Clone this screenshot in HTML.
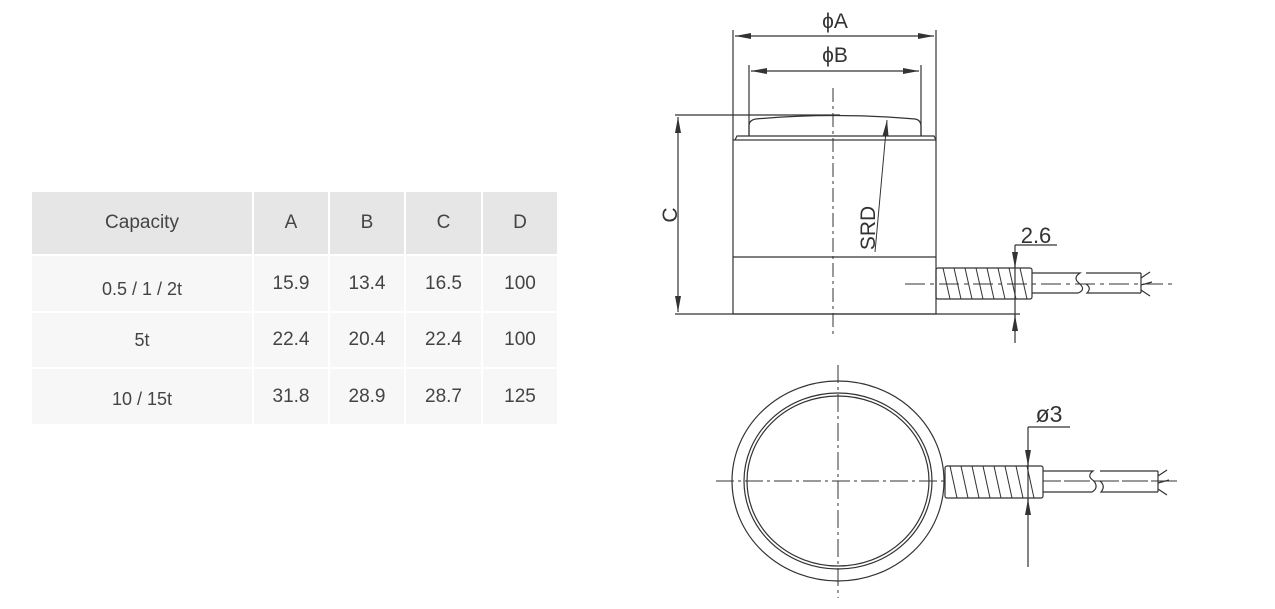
<!DOCTYPE html>
<html><head><meta charset="utf-8"><style>
html,body{margin:0;padding:0;background:#fff;width:1275px;height:609px;overflow:hidden;position:relative;font-family:"Liberation Sans",Arial,sans-serif;}
.c{position:absolute;display:flex;align-items:center;justify-content:center;color:#444;font-size:19px;}
.h{background:#e6e6e6;}
.r{background:#f7f7f7;}
svg{position:absolute;left:0;top:0;}
svg text{font-weight:300;}
</style></head><body>
<div class="c h" style="left:32px;top:192px;width:220px;height:62px;">Capacity</div>
<div class="c h" style="left:254px;top:192px;width:74px;height:62px;">A</div>
<div class="c h" style="left:330px;top:192px;width:74px;height:62px;">B</div>
<div class="c h" style="left:406px;top:192px;width:75px;height:62px;">C</div>
<div class="c h" style="left:483px;top:192px;width:74px;height:62px;">D</div>

<div class="c r" style="left:32px;top:256px;width:220px;height:55px;padding-top:12px;box-sizing:border-box;font-size:18px;">0.5 / 1 / 2t</div>
<div class="c r" style="left:254px;top:256px;width:74px;height:55px;">15.9</div>
<div class="c r" style="left:330px;top:256px;width:74px;height:55px;">13.4</div>
<div class="c r" style="left:406px;top:256px;width:75px;height:55px;">16.5</div>
<div class="c r" style="left:483px;top:256px;width:74px;height:55px;">100</div>

<div class="c r" style="left:32px;top:313px;width:220px;height:54px;font-size:18px;">5t</div>
<div class="c r" style="left:254px;top:313px;width:74px;height:54px;">22.4</div>
<div class="c r" style="left:330px;top:313px;width:74px;height:54px;">20.4</div>
<div class="c r" style="left:406px;top:313px;width:75px;height:54px;">22.4</div>
<div class="c r" style="left:483px;top:313px;width:74px;height:54px;">100</div>

<div class="c r" style="left:32px;top:369px;width:220px;height:55px;padding-top:6px;box-sizing:border-box;font-size:18px;">10 / 15t</div>
<div class="c r" style="left:254px;top:369px;width:74px;height:55px;">31.8</div>
<div class="c r" style="left:330px;top:369px;width:74px;height:55px;">28.9</div>
<div class="c r" style="left:406px;top:369px;width:75px;height:55px;">28.7</div>
<div class="c r" style="left:483px;top:369px;width:74px;height:55px;">125</div>

<svg width="1275" height="609" viewBox="0 0 1275 609" fill="none" stroke="#333" stroke-width="1.2">
<defs>
<marker id="ar" viewBox="0 0 16 6" refX="16" refY="3" markerWidth="16" markerHeight="6" orient="auto-start-reverse" markerUnits="userSpaceOnUse"><path d="M0,0L16,3L0,6z" fill="#333" stroke="none"/></marker>
</defs>
<g>
<line x1="733" y1="30" x2="733" y2="140"/>
<line x1="936" y1="30" x2="936" y2="140"/>
<line x1="735" y1="36" x2="934" y2="36" marker-start="url(#ar)" marker-end="url(#ar)"/>
<line x1="749" y1="65" x2="749" y2="136"/>
<line x1="921" y1="65" x2="921" y2="136"/>
<line x1="751" y1="71" x2="919" y2="71" marker-start="url(#ar)" marker-end="url(#ar)"/>
<text x="835" y="28" font-family="Liberation Sans,sans-serif" font-size="21" fill="#333" stroke="none" text-anchor="middle">ϕA</text>
<text x="835" y="62" font-family="Liberation Sans,sans-serif" font-size="21" fill="#333" stroke="none" text-anchor="middle">ϕB</text>
<rect x="733" y="140" width="203" height="174"/>
<line x1="733" y1="257" x2="936" y2="257"/>
<path d="M735,140 L737,136 L934,136 L936,140"/>
<path d="M749,136 L749,126 Q749,120 756,119 Q835,112 915,119 Q921,120 921,126 L921,136"/>
<line x1="675" y1="115" x2="840" y2="115"/>
<line x1="675" y1="314" x2="1020" y2="314"/>
<line x1="678" y1="117" x2="678" y2="312" marker-start="url(#ar)" marker-end="url(#ar)"/>
<text x="0" y="0" transform="translate(677,215) rotate(-90)" font-family="Liberation Sans,sans-serif" font-size="21" fill="#333" stroke="none" text-anchor="middle">C</text>
<line x1="833" y1="88" x2="833" y2="336" stroke-dasharray="14,4,3,4" stroke-width="1"/>
<line x1="875" y1="252" x2="887" y2="120" marker-end="url(#ar)" stroke-width="1"/>
<text x="0" y="0" transform="translate(875,228) rotate(-90)" font-family="Liberation Sans,sans-serif" font-size="21" fill="#333" stroke="none" text-anchor="middle">SRD</text>
<rect x="936" y="268" width="96" height="31" rx="2"/>
<g stroke-width="1">
<line x1="943" y1="268" x2="950" y2="299"/><line x1="954" y1="268" x2="961" y2="299"/><line x1="965" y1="268" x2="972" y2="299"/><line x1="976" y1="268" x2="983" y2="299"/><line x1="987" y1="268" x2="994" y2="299"/><line x1="998" y1="268" x2="1005" y2="299"/><line x1="1009" y1="268" x2="1016" y2="299"/><line x1="1020" y1="268" x2="1027" y2="299"/>
</g>
<path d="M1032,273 L1080,273 Q1072,278 1080,284 Q1086,290 1078,293 L1032,293"/>
<path d="M1086,273 L1141,273 M1141,293 L1087,293 Q1092,288 1086,284"/>
<path d="M1141,273 L1141,293 M1141,278 L1150,272 M1141,285 L1152,282 M1141,290 L1150,296"/>
<line x1="905" y1="284" x2="1172" y2="284" stroke-dasharray="20,5,4,5" stroke-width="1"/>
<line x1="1015" y1="245" x2="1015" y2="343"/>
<line x1="1015" y1="245" x2="1057" y2="245"/>
<line x1="1015" y1="252" x2="1015" y2="268" marker-end="url(#ar)"/>
<line x1="1015" y1="332" x2="1015" y2="315" marker-end="url(#ar)"/>
<text x="1036" y="243" font-family="Liberation Sans,sans-serif" font-size="22" fill="#333" stroke="none" text-anchor="middle">2.6</text>
</g>
<g>
<ellipse cx="838" cy="481" rx="106" ry="100"/>
<ellipse cx="838" cy="481" rx="94" ry="88"/>
<ellipse cx="838" cy="481" rx="91" ry="85"/>
<line x1="838" y1="365" x2="838" y2="598" stroke-dasharray="18,4,3,4" stroke-width="1"/>
<line x1="716" y1="481" x2="1180" y2="481" stroke-dasharray="18,4,3,4" stroke-width="1"/>
<rect x="945" y="466" width="98" height="32" fill="#fff" rx="2"/>
<g stroke-width="1">
<line x1="950" y1="466" x2="957" y2="498"/><line x1="961" y1="466" x2="968" y2="498"/><line x1="972" y1="466" x2="979" y2="498"/><line x1="983" y1="466" x2="990" y2="498"/><line x1="994" y1="466" x2="1001" y2="498"/><line x1="1005" y1="466" x2="1012" y2="498"/><line x1="1016" y1="466" x2="1023" y2="498"/><line x1="1027" y1="466" x2="1034" y2="498"/>
</g>
<line x1="1043" y1="481" x2="1180" y2="481" stroke-dasharray="18,4,3,4" stroke-width="1"/>
<path d="M1043,471 L1093,471 Q1086,476 1094,481 Q1099,488 1092,492 L1043,492"/>
<path d="M1100,471 L1158,471 M1158,492 L1101,492 Q1106,486 1100,481"/>
<path d="M1158,471 L1158,492 M1158,476 L1167,470 M1158,483 L1169,480 M1158,489 L1167,495"/>
<line x1="1028" y1="427" x2="1028" y2="567"/>
<line x1="1028" y1="427" x2="1070" y2="427"/>
<line x1="1028" y1="450" x2="1028" y2="466" marker-end="url(#ar)"/>
<line x1="1028" y1="514" x2="1028" y2="499" marker-end="url(#ar)"/>
<text x="1049" y="422" font-family="Liberation Sans,sans-serif" font-size="23" fill="#333" stroke="none" text-anchor="middle">ø3</text>
</g>
</svg>
</body></html>
